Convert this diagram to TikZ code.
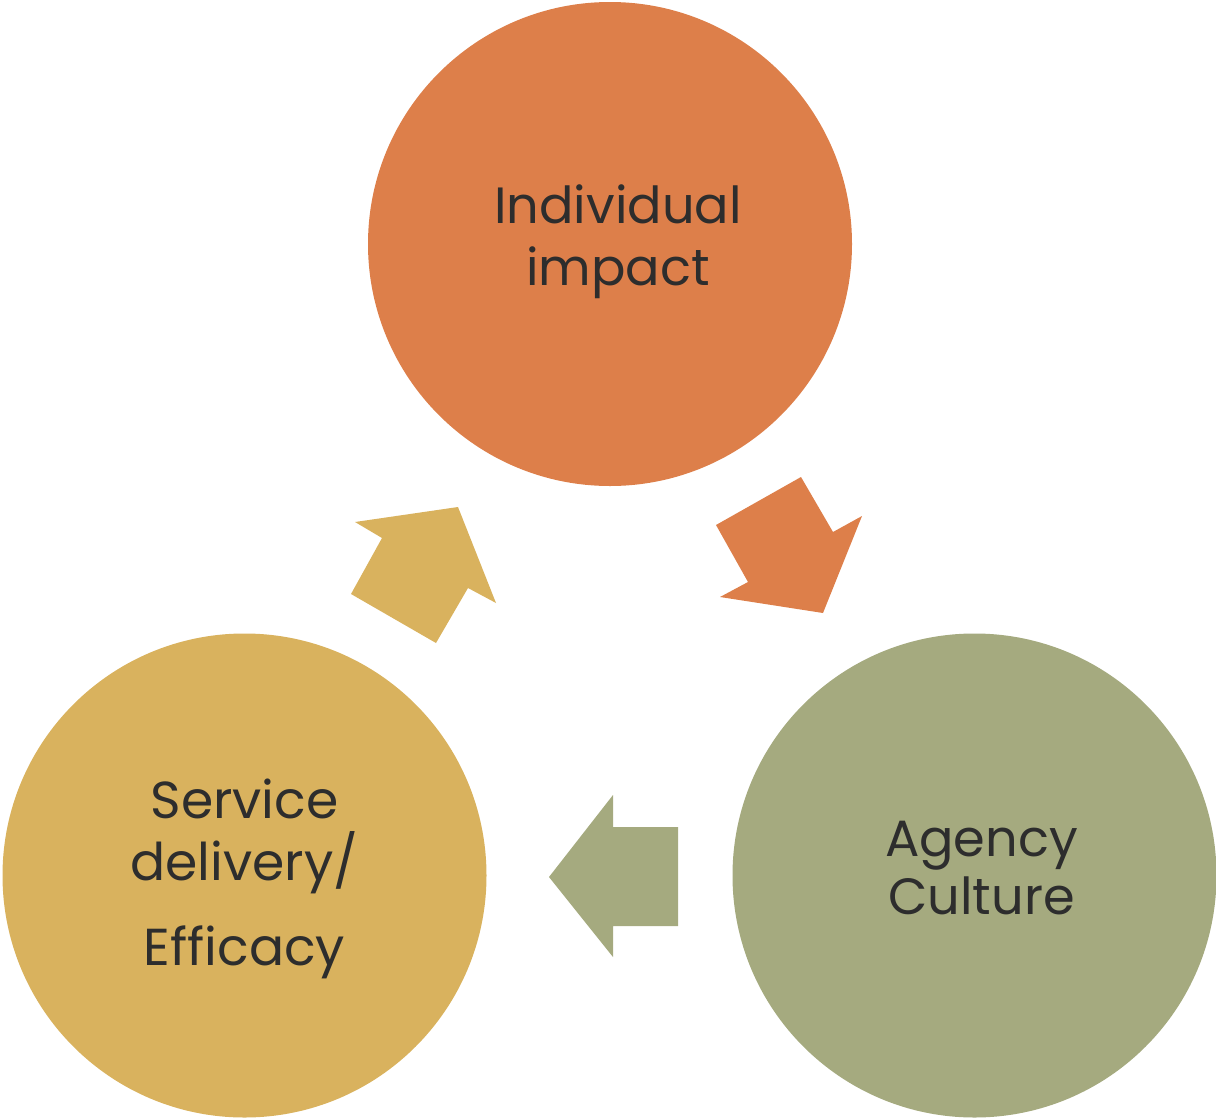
\documentclass[tikz,border=0pt]{standalone}
\usepackage{fontspec}
\setmainfont{Poppins}
\setlength{\lineskiplimit}{-30pt}
\definecolor{impactorange}{HTML}{DD7F4A}
\definecolor{serviceyellow}{HTML}{D9B25E}
\definecolor{culturegreen}{HTML}{A5AA7F}
\definecolor{labelgrey}{HTML}{2D2D2D}
\tikzset{
    bubble/.style={circle, minimum size=242pt, inner sep=0pt},
    bubbletext/.style={align=center, text=labelgrey, font=\fontsize{25.5}{31}\selectfont},
}
\begin{document}
\begin{tikzpicture}[x=0.5pt, y=-0.5pt]
    \useasboundingbox (0,0) rectangle (1216,1119);
    % the three bubbles
    \node[bubble, fill=impactorange] (impact) at (610,244) {};
    \node[bubble, fill=serviceyellow] (service) at (244.5,875.5) {};
    \node[bubble, fill=culturegreen] (culture) at (974.5,875.5) {};
    \node[bubbletext] (impactlabel) at ([shift={(8,-2)}]impact.center) {Individual\\impact};
    \node[bubbletext, font=\fontsize{26}{31}\selectfont] (servicelabel) at ([shift={(0,3)}]service.center) {Service\\delivery/\\[11.5pt]Efficacy};
    \node[bubbletext, font=\fontsize{25.5}{29}\selectfont] (culturelabel) at ([shift={(7,-7)}]culture.center) {Agency\\Culture};
    % block arrows going round the cycle
    \fill[impactorange] (716,525) -- (801,477) -- (833,532) -- (862,516) -- (823,613) -- (720,597) -- (748,582) -- cycle;
    \fill[culturegreen] (678,827) -- (613,827) -- (613,795) -- (549,877) -- (613,957) -- (613,926) -- (678,926) -- cycle;
    \fill[serviceyellow] (351,594) -- (382,538) -- (355,522) -- (458,507) -- (496,603) -- (468,588) -- (436,643) -- cycle;
\end{tikzpicture}
\end{document}
